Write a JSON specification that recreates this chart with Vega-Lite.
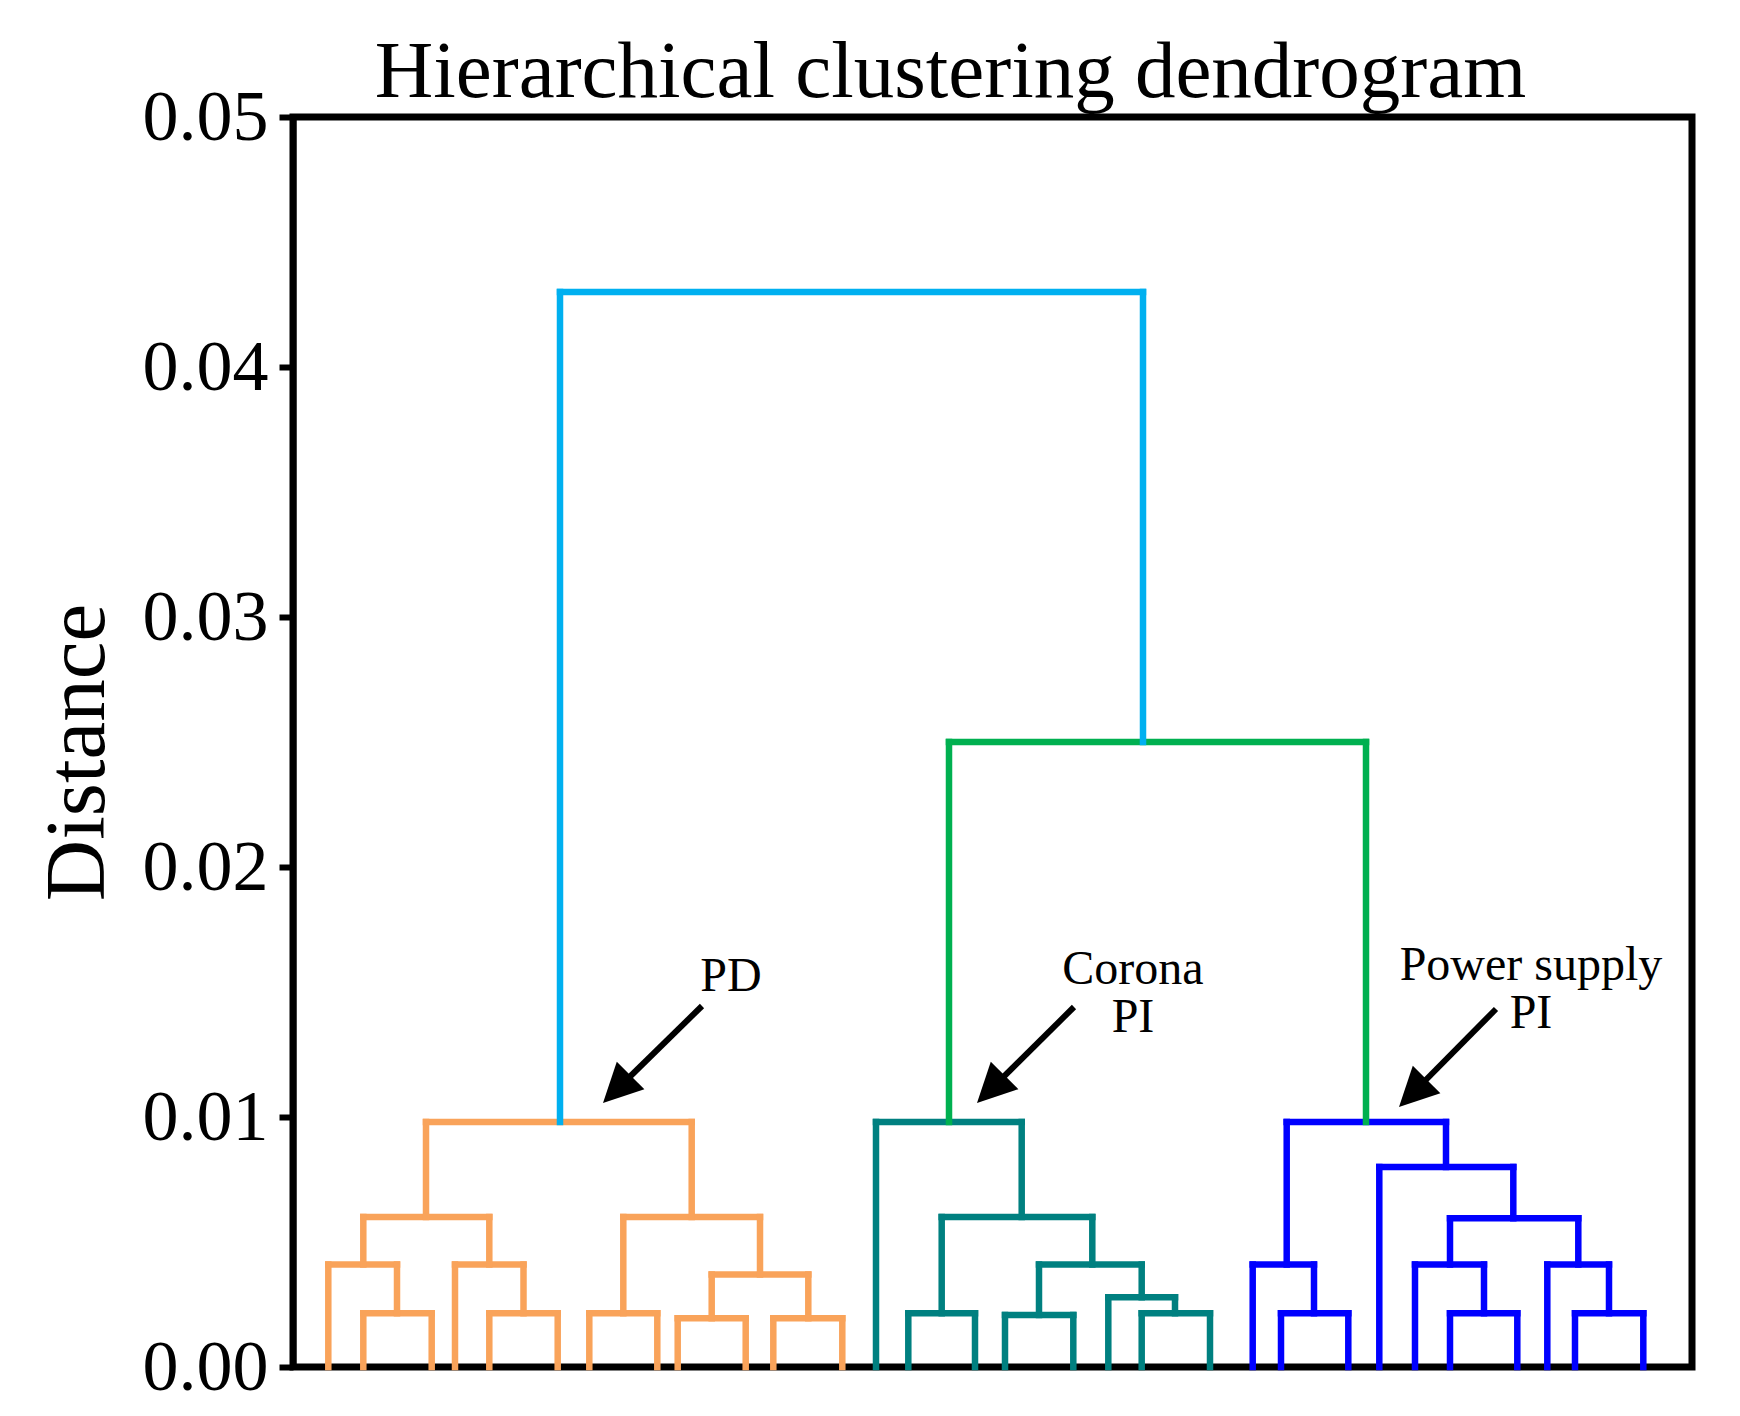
{
  "$schema": "https://vega.github.io/schema/vega-lite/v6.json",
  "autosize": "none",
  "width": 1399,
  "height": 1250,
  "padding": {"left": 293, "top": 117, "right": 48, "bottom": 49},
  "background": "white",
  "config": {
    "view": {"stroke": "black", "strokeWidth": 7},
    "font": "Liberation Serif"
  },
  "title": {
    "text": "Hierarchical clustering dendrogram",
    "font": "Liberation Serif",
    "fontSize": 81,
    "fontWeight": "normal",
    "color": "black",
    "anchor": "middle",
    "frame": "group",
    "dx": -42,
    "offset": 0,
    "dy": 33
  },
  "datasets": {
    "segments": [
      {"c": "orange", "x": 35.3, "x2": 35.3, "y": 0, "y2": 0.0041},
      {"c": "orange", "x": 70.3, "x2": 70.3, "y": 0, "y2": 0.00215},
      {"c": "orange", "x": 138.7, "x2": 138.7, "y": 0, "y2": 0.00215},
      {"c": "orange", "x": 162, "x2": 162, "y": 0, "y2": 0.0041},
      {"c": "orange", "x": 196.3, "x2": 196.3, "y": 0, "y2": 0.00215},
      {"c": "orange", "x": 264.7, "x2": 264.7, "y": 0, "y2": 0.00215},
      {"c": "orange", "x": 296.3, "x2": 296.3, "y": 0, "y2": 0.00215},
      {"c": "orange", "x": 364.3, "x2": 364.3, "y": 0, "y2": 0.00215},
      {"c": "orange", "x": 384.7, "x2": 384.7, "y": 0, "y2": 0.00195},
      {"c": "orange", "x": 452.7, "x2": 452.7, "y": 0, "y2": 0.00195},
      {"c": "orange", "x": 480.3, "x2": 480.3, "y": 0, "y2": 0.00195},
      {"c": "orange", "x": 549.3, "x2": 549.3, "y": 0, "y2": 0.00195},
      {"c": "orange", "x": 70.3, "x2": 138.7, "y": 0.00215, "y2": 0.00215},
      {"c": "orange", "x": 35.3, "x2": 104, "y": 0.0041, "y2": 0.0041},
      {"c": "orange", "x": 196.3, "x2": 264.7, "y": 0.00215, "y2": 0.00215},
      {"c": "orange", "x": 162, "x2": 230.5, "y": 0.0041, "y2": 0.0041},
      {"c": "orange", "x": 70.3, "x2": 196.3, "y": 0.006, "y2": 0.006},
      {"c": "orange", "x": 296.3, "x2": 364.3, "y": 0.00215, "y2": 0.00215},
      {"c": "orange", "x": 384.7, "x2": 452.7, "y": 0.00195, "y2": 0.00195},
      {"c": "orange", "x": 480.3, "x2": 549.3, "y": 0.00195, "y2": 0.00195},
      {"c": "orange", "x": 418.7, "x2": 515.3, "y": 0.0037, "y2": 0.0037},
      {"c": "orange", "x": 330.3, "x2": 467, "y": 0.006, "y2": 0.006},
      {"c": "orange", "x": 133, "x2": 398.7, "y": 0.0098, "y2": 0.0098},
      {"c": "orange", "x": 104, "x2": 104, "y": 0.00215, "y2": 0.0041},
      {"c": "orange", "x": 230.5, "x2": 230.5, "y": 0.00215, "y2": 0.0041},
      {"c": "orange", "x": 70.3, "x2": 70.3, "y": 0.0041, "y2": 0.006},
      {"c": "orange", "x": 196.3, "x2": 196.3, "y": 0.0041, "y2": 0.006},
      {"c": "orange", "x": 133, "x2": 133, "y": 0.006, "y2": 0.0098},
      {"c": "orange", "x": 418.7, "x2": 418.7, "y": 0.00195, "y2": 0.0037},
      {"c": "orange", "x": 515.3, "x2": 515.3, "y": 0.00195, "y2": 0.0037},
      {"c": "orange", "x": 330.3, "x2": 330.3, "y": 0.00215, "y2": 0.006},
      {"c": "orange", "x": 467, "x2": 467, "y": 0.0037, "y2": 0.006},
      {"c": "orange", "x": 398.7, "x2": 398.7, "y": 0.006, "y2": 0.0098},
      {"c": "teal", "x": 583, "x2": 583, "y": 0, "y2": 0.0098},
      {"c": "teal", "x": 615.3, "x2": 615.3, "y": 0, "y2": 0.00215},
      {"c": "teal", "x": 682, "x2": 682, "y": 0, "y2": 0.00215},
      {"c": "teal", "x": 712, "x2": 712, "y": 0, "y2": 0.00208},
      {"c": "teal", "x": 780.3, "x2": 780.3, "y": 0, "y2": 0.00208},
      {"c": "teal", "x": 815.3, "x2": 815.3, "y": 0, "y2": 0.00279},
      {"c": "teal", "x": 848.7, "x2": 848.7, "y": 0, "y2": 0.00215},
      {"c": "teal", "x": 917, "x2": 917, "y": 0, "y2": 0.00215},
      {"c": "teal", "x": 615.3, "x2": 682, "y": 0.00215, "y2": 0.00215},
      {"c": "teal", "x": 712, "x2": 780.3, "y": 0.00208, "y2": 0.00208},
      {"c": "teal", "x": 848.7, "x2": 917, "y": 0.00215, "y2": 0.00215},
      {"c": "teal", "x": 815.3, "x2": 882, "y": 0.00279, "y2": 0.00279},
      {"c": "teal", "x": 746, "x2": 848.7, "y": 0.0041, "y2": 0.0041},
      {"c": "teal", "x": 648.7, "x2": 799.3, "y": 0.006, "y2": 0.006},
      {"c": "teal", "x": 583, "x2": 728.7, "y": 0.0098, "y2": 0.0098},
      {"c": "teal", "x": 648.7, "x2": 648.7, "y": 0.00215, "y2": 0.006},
      {"c": "teal", "x": 746, "x2": 746, "y": 0.00208, "y2": 0.0041},
      {"c": "teal", "x": 882, "x2": 882, "y": 0.00215, "y2": 0.00279},
      {"c": "teal", "x": 848.7, "x2": 848.7, "y": 0.00279, "y2": 0.0041},
      {"c": "teal", "x": 799.3, "x2": 799.3, "y": 0.0041, "y2": 0.006},
      {"c": "teal", "x": 728.7, "x2": 728.7, "y": 0.006, "y2": 0.0098},
      {"c": "blue", "x": 959.7, "x2": 959.7, "y": 0, "y2": 0.0041},
      {"c": "blue", "x": 988, "x2": 988, "y": 0, "y2": 0.00215},
      {"c": "blue", "x": 1055.3, "x2": 1055.3, "y": 0, "y2": 0.00215},
      {"c": "blue", "x": 1086.3, "x2": 1086.3, "y": 0, "y2": 0.008},
      {"c": "blue", "x": 1122, "x2": 1122, "y": 0, "y2": 0.0041},
      {"c": "blue", "x": 1157, "x2": 1157, "y": 0, "y2": 0.00215},
      {"c": "blue", "x": 1224.3, "x2": 1224.3, "y": 0, "y2": 0.00215},
      {"c": "blue", "x": 1254.3, "x2": 1254.3, "y": 0, "y2": 0.0041},
      {"c": "blue", "x": 1282, "x2": 1282, "y": 0, "y2": 0.00215},
      {"c": "blue", "x": 1350.3, "x2": 1350.3, "y": 0, "y2": 0.00215},
      {"c": "blue", "x": 988, "x2": 1055.3, "y": 0.00215, "y2": 0.00215},
      {"c": "blue", "x": 959.7, "x2": 1021, "y": 0.0041, "y2": 0.0041},
      {"c": "blue", "x": 1157, "x2": 1224.3, "y": 0.00215, "y2": 0.00215},
      {"c": "blue", "x": 1122, "x2": 1191, "y": 0.0041, "y2": 0.0041},
      {"c": "blue", "x": 1282, "x2": 1350.3, "y": 0.00215, "y2": 0.00215},
      {"c": "blue", "x": 1254.3, "x2": 1316, "y": 0.0041, "y2": 0.0041},
      {"c": "blue", "x": 1157, "x2": 1285.3, "y": 0.00595, "y2": 0.00595},
      {"c": "blue", "x": 1086.3, "x2": 1220.3, "y": 0.008, "y2": 0.008},
      {"c": "blue", "x": 993.7, "x2": 1153, "y": 0.0098, "y2": 0.0098},
      {"c": "blue", "x": 1021, "x2": 1021, "y": 0.00215, "y2": 0.0041},
      {"c": "blue", "x": 993.7, "x2": 993.7, "y": 0.0041, "y2": 0.0098},
      {"c": "blue", "x": 1191, "x2": 1191, "y": 0.00215, "y2": 0.0041},
      {"c": "blue", "x": 1157, "x2": 1157, "y": 0.0041, "y2": 0.00595},
      {"c": "blue", "x": 1316, "x2": 1316, "y": 0.00215, "y2": 0.0041},
      {"c": "blue", "x": 1285.3, "x2": 1285.3, "y": 0.0041, "y2": 0.00595},
      {"c": "blue", "x": 1220.3, "x2": 1220.3, "y": 0.00595, "y2": 0.008},
      {"c": "blue", "x": 1153, "x2": 1153, "y": 0.008, "y2": 0.0098},
      {"c": "green", "x": 656, "x2": 656, "y": 0.0098, "y2": 0.025},
      {"c": "green", "x": 1073, "x2": 1073, "y": 0.0098, "y2": 0.025},
      {"c": "green", "x": 656, "x2": 1073, "y": 0.025, "y2": 0.025},
      {"c": "cyan", "x": 267, "x2": 267, "y": 0.0098, "y2": 0.043},
      {"c": "cyan", "x": 850, "x2": 850, "y": 0.025, "y2": 0.043},
      {"c": "cyan", "x": 267, "x2": 850, "y": 0.043, "y2": 0.043}
    ],
    "arrows": [
      {"x": 409, "y": 0.01444, "x2": 327.9, "y2": 0.01126, "tx": 310, "ty": 0.01056},
      {"x": 781, "y": 0.0144, "x2": 701.8, "y2": 0.01126, "tx": 684, "ty": 0.01056},
      {"x": 1203, "y": 0.01432, "x2": 1123.6, "y2": 0.01111, "tx": 1106, "ty": 0.0104}
    ],
    "labels": [
      {"t": "PD", "x": 438, "y": 0.01505},
      {"t": "Corona\nPI", "x": 840, "y": 0.01532},
      {"t": "Power supply\nPI", "x": 1238, "y": 0.01548}
    ]
  },
  "layer": [
    {
      "data": {"name": "segments"},
      "mark": {"type": "rule", "strokeWidth": 6.5, "strokeCap": "square"},
      "encoding": {
        "x": {"field": "x", "type": "quantitative", "scale": {"domain": [0, 1399], "nice": false, "zero": false}, "axis": null},
        "x2": {"field": "x2"},
        "y": {
          "field": "y", "type": "quantitative",
          "scale": {"domain": [0, 0.05], "nice": false},
          "axis": {
            "orient": "left",
            "values": [0, 0.01, 0.02, 0.03, 0.04, 0.05],
            "format": ".2f",
            "grid": false,
            "labelFont": "Liberation Serif",
            "labelFontSize": 72,
            "labelColor": "black",
            "labelFlush": false,
            "labelOverlap": false,
            "labelPadding": 11,
            "tickColor": "black",
            "tickWidth": 6,
            "tickSize": 14,
            "domainColor": "black",
            "domainWidth": 6,
            "title": "Distance",
            "titleFont": "Liberation Serif",
            "titleFontSize": 85,
            "titleFontWeight": "normal",
            "titleColor": "black",
            "titleBaseline": "alphabetic",
            "titleX": -190,
            "titleY": 635
          }
        },
        "y2": {"field": "y2"},
        "color": {
          "field": "c", "type": "nominal", "legend": null,
          "scale": {"domain": ["orange", "teal", "blue", "green", "cyan"], "range": ["#F9A35A", "#008080", "#0000FF", "#00B050", "#00B0F0"]}
        }
      }
    },
    {
      "data": {"name": "arrows"},
      "mark": {"type": "rule", "strokeWidth": 6, "color": "black", "strokeCap": "butt"},
      "encoding": {
        "x": {"field": "x", "type": "quantitative"},
        "x2": {"field": "x2"},
        "y": {"field": "y", "type": "quantitative"},
        "y2": {"field": "y2"}
      }
    },
    {
      "data": {"name": "arrows"},
      "mark": {"type": "point", "shape": "M0,0L-1,2L1,2Z", "size": 1521, "angle": 225, "filled": true, "opacity": 1, "color": "black", "strokeWidth": 0},
      "encoding": {
        "x": {"field": "tx", "type": "quantitative"},
        "y": {"field": "ty", "type": "quantitative"}
      }
    },
    {
      "data": {"name": "labels"},
      "mark": {"type": "text", "font": "Liberation Serif", "fontSize": 48, "align": "center", "baseline": "alphabetic", "color": "black", "lineBreak": "\n", "lineHeight": 48},
      "encoding": {
        "x": {"field": "x", "type": "quantitative"},
        "y": {"field": "y", "type": "quantitative"},
        "text": {"field": "t"}
      }
    }
  ]
}
